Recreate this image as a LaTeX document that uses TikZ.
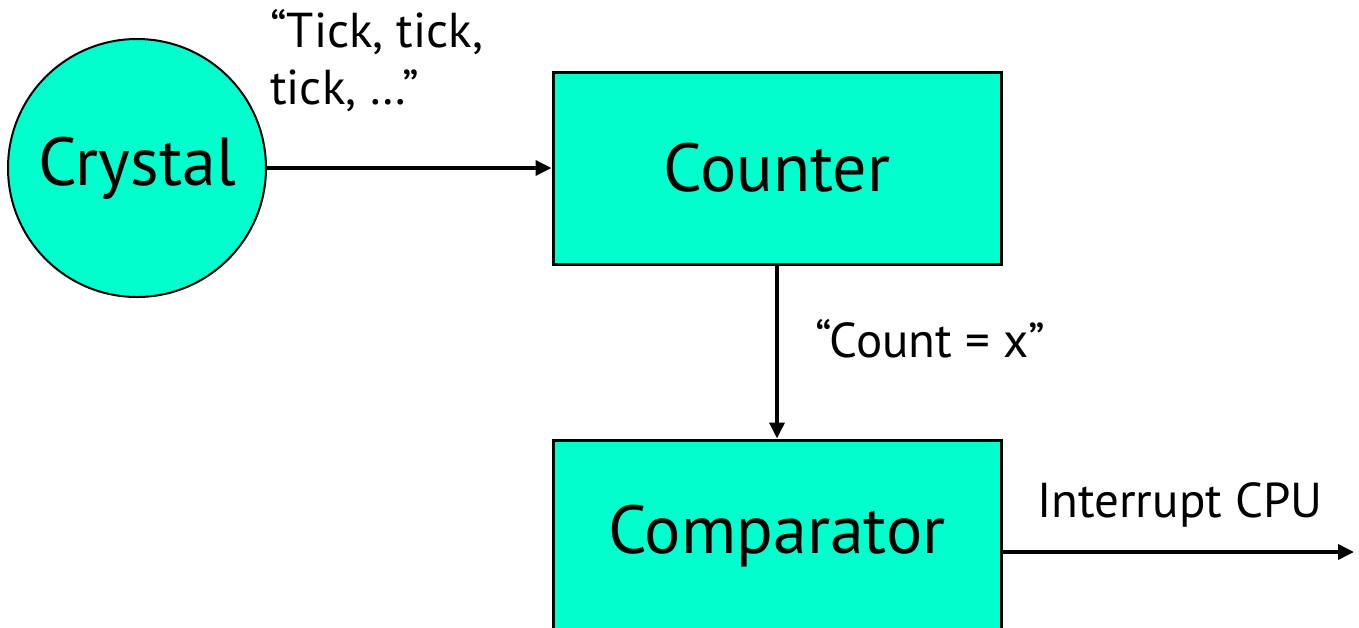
\documentclass[tikz,border=0pt]{standalone}
\usepackage{fontspec}
\setmainfont{PT Sans}
\usetikzlibrary{arrows.meta}
\definecolor{aqua}{RGB}{0,255,204}
\tikzset{
  block/.style={draw=black, line width=3pt, fill=aqua, minimum width=448pt, minimum height=192pt, inner sep=0pt, font=\fontsize{68}{80}\selectfont},
  disc/.style={draw=black, line width=2pt, fill=aqua, circle, minimum size=258pt, inner sep=0pt, font=\fontsize{68}{80}\selectfont},
  conn/.style={line width=3.5pt, -{Triangle[length=16pt,width=15pt]}},
  lbl/.style={inner sep=0pt, font=\fontsize{49}{57}\selectfont}
}
\begin{document}
\begin{tikzpicture}[x=1pt,y=-1pt]
\useasboundingbox (0,0) rectangle (1359,627);
\clip (0,0) rectangle (1359,627);
\node[disc] (crystal) at (137,168) {Crystal};
\node[block] (counter) at (777,168) {Counter};
\node[block] (comparator) at (777,536) {Comparator};
\coordinate (cpu) at (1354,552);
\draw[conn] (crystal.east) -- (counter.west);
\draw[conn] (counter.south) -- (comparator.north);
\draw[conn] (comparator.east |- cpu) -- (cpu);
\node[lbl, anchor=base west, align=left] (tick) at (270,104) {“Tick, tick,\\tick, …”};
\node[lbl, anchor=base west] (count) at (815,357) {“Count = x”};
\node[lbl, anchor=base west] (irq) at (1037,517) {Interrupt CPU};
\end{tikzpicture}
\end{document}
